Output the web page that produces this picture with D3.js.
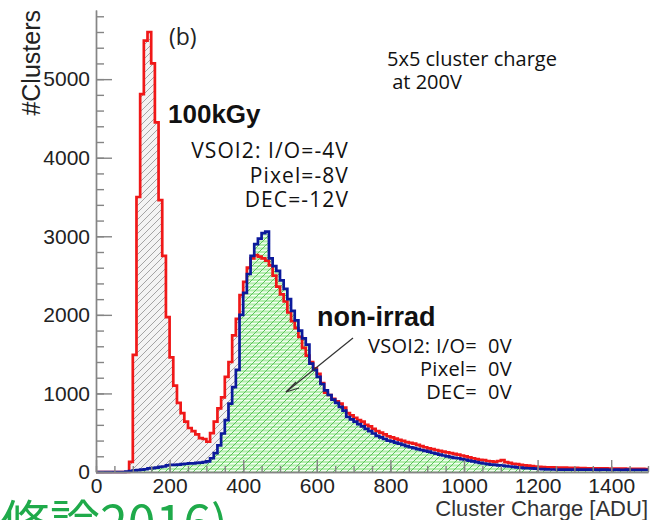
<!DOCTYPE html>
<html>
<head>
<meta charset="utf-8">
<script src="https://cdn.jsdelivr.net/npm/d3@7"></script>
<style>
  body { margin: 0; background: #fff; }
  svg text { white-space: pre; }
</style>
</head>
<body>
<div id="chart"></div>
<script>
// bins are 10 ADU wide, first bin starts at 0
const binStarts = d3.range(0, 1500, 10);

// 100kGy, VSOI2 I/O=-4V Pixel=-8V DEC=-12V
const irradCounts = [
  0, 0, 0, 0, 0, 0, 0, 0, 0, 130,
  1490, 3500, 4810, 5490, 5600, 5200, 4450, 3460, 2750, 1970,
  1460, 1100, 880, 750, 640, 560, 520, 480, 430, 420,
  385, 495, 640, 810, 950, 1210, 1400, 1740, 1950, 2250,
  2420, 2600, 2720, 2760, 2740, 2720, 2690, 2630, 2500, 2360,
  2260, 2170, 2030, 1920, 1830, 1720, 1580, 1480, 1400, 1320,
  1250, 1130, 1010, 980, 930, 900, 870, 820, 750, 720,
  690, 660, 640, 600, 580, 550, 520, 500, 480, 455,
  440, 425, 410, 395, 380, 370, 360, 345, 330, 315,
  300, 290, 280, 270, 260, 250, 240, 230, 220, 210,
  200, 185, 175, 165, 155, 150, 140, 135, 130, 140,
  150, 125, 115, 105, 100, 90, 85, 80, 75, 70,
  65, 62, 60, 60, 58, 57, 55, 55, 54, 52,
  52, 50, 50, 48, 48, 47, 46, 45, 45, 44,
  44, 43, 42, 42, 41, 40, 40, 40, 39, 38
];

// non-irrad, VSOI2 I/O=0V Pixel=0V DEC=0V
const nonIrradCounts = [
  0, 0, 0, 0, 0, 0, 0, 0, 5, 10,
  20, 25, 30, 35, 45, 50, 55, 65, 70, 85,
  90, 90, 95, 100, 105, 110, 110, 115, 120, 125,
  135, 175, 240, 340, 490, 660, 870, 1080, 1300, 2000,
  2280, 2520, 2750, 2900, 2970, 3040, 3060, 2720, 2620, 2560,
  2440, 2330, 2200, 2050, 1930, 1800, 1700, 1620, 1380, 1300,
  1210, 1120, 1040, 980, 920, 880, 830, 780, 700, 670,
  640, 610, 580, 550, 520, 490, 460, 440, 420, 400,
  390, 375, 360, 345, 330, 315, 305, 290, 280, 270,
  260, 245, 235, 220, 210, 200, 190, 180, 175, 165,
  155, 145, 135, 125, 115, 108, 100, 95, 90, 85,
  80, 75, 70, 65, 60, 55, 50, 48, 45, 42,
  38, 36, 34, 32, 32, 31, 30, 30, 30, 30,
  29, 29, 30, 30, 29, 29, 28, 29, 29, 28,
  28, 29, 28, 28, 29, 28, 28, 28, 28, 28
];

const xMajorTicks = [0, 200, 400, 600, 800, 1000, 1200, 1400];
const yMajorTicks = [0, 1000, 2000, 3000, 4000, 5000];

const width = 651, height = 520;

const svg = d3.select("#chart").append("svg")
  .attr("width", width)
  .attr("height", height)
  .style("font-family", "'Liberation Sans', Arial, sans-serif");

const x = d3.scaleLinear().domain([0, 1500]).range([96, 648]);
const y = d3.scaleLinear().domain([0, 5880]).range([472, 10]);

// ---- hatch patterns ----
const defs = svg.append("defs");

const grayHatch = defs.append("pattern")
  .attr("id", "grayHatch")
  .attr("patternUnits", "userSpaceOnUse")
  .attr("width", 7).attr("height", 7);
grayHatch.append("rect").attr("width", 7).attr("height", 7).attr("fill", "#f3f3f3");
grayHatch.append("path")
  .attr("d", "M-1,1 l2,-2 M0,7 l7,-7 M6,8 l2,-2")
  .attr("stroke", "#a4a4a4").attr("stroke-width", 1);

const greenHatch = defs.append("pattern")
  .attr("id", "greenHatch")
  .attr("patternUnits", "userSpaceOnUse")
  .attr("width", 7).attr("height", 7);
greenHatch.append("rect").attr("width", 7).attr("height", 7).attr("fill", "#b2eeac");
greenHatch.append("rect").attr("y", 1).attr("width", 7).attr("height", 1.4).attr("fill", "#f4fff2");
greenHatch.append("rect").attr("y", 4.5).attr("width", 7).attr("height", 1.4).attr("fill", "#f4fff2");
greenHatch.append("path")
  .attr("d", "M-1,1 l2,-2 M0,7 l7,-7 M6,8 l2,-2")
  .attr("stroke", "#5ac25a").attr("stroke-width", 1);

// ---- histograms ----
function toSteps(counts) {
  const pts = counts.map((c, i) => [binStarts[i], c]);
  pts.push([1500, counts[counts.length - 1]]);
  return pts;
}

const area = d3.area()
  .curve(d3.curveStepAfter)
  .x(d => x(d[0]))
  .y0(y(0))
  .y1(d => y(d[1]));

const line = d3.line()
  .curve(d3.curveStepAfter)
  .x(d => x(d[0]))
  .y(d => y(d[1]));

const irrad = toSteps(irradCounts);
const nonIrrad = toSteps(nonIrradCounts);

svg.append("path").datum(irrad)
  .attr("d", area).attr("fill", "url(#grayHatch)");
svg.append("path").datum(nonIrrad)
  .attr("d", area).attr("fill", "url(#greenHatch)");
svg.append("path").datum(irrad)
  .attr("d", line).attr("fill", "none")
  .attr("stroke", "#f01818").attr("stroke-width", 2.7);
svg.append("path").datum(nonIrrad)
  .attr("d", line).attr("fill", "none")
  .attr("stroke", "#0c1a9c").attr("stroke-width", 2.7);

// ---- axes (ticks inward, ROOT style) ----
const axisColor = "#858585";

const xAxisG = svg.append("g").attr("transform", `translate(0,${y(0)})`);
xAxisG.append("g")
  .call(d3.axisBottom(x).tickValues(d3.range(0, 1501, 50)).tickSize(-6).tickSizeOuter(0).tickFormat(""));
xAxisG.append("g")
  .call(d3.axisBottom(x).tickValues(xMajorTicks).tickSize(-12).tickSizeOuter(0)
    .tickPadding(6).tickFormat(d3.format("d")));

const yAxisG = svg.append("g").attr("transform", `translate(${x(0)},0)`);
yAxisG.append("g")
  .call(d3.axisLeft(y).tickValues(d3.range(0, 5801, 200)).tickSize(-8).tickSizeOuter(0).tickFormat(""));
yAxisG.append("g")
  .call(d3.axisLeft(y).tickValues(yMajorTicks).tickSize(-16).tickSizeOuter(0)
    .tickPadding(6).tickFormat(d3.format("d")));

svg.selectAll(".domain, .tick line")
  .attr("stroke", axisColor).attr("stroke-width", 1.4);
svg.selectAll(".tick text")
  .attr("font-size", 21).attr("fill", "#222")
  .attr("font-family", "'Liberation Sans', Arial, sans-serif");

// axis titles
svg.append("text")
  .attr("transform", "translate(40,10) rotate(-90)")
  .attr("text-anchor", "end")
  .attr("font-size", 25)
  .attr("fill", "#222")
  .text("#Clusters");

svg.append("text")
  .attr("x", 648).attr("y", 516)
  .attr("text-anchor", "end")
  .attr("font-size", 22)
  .attr("fill", "#333")
  .text("Cluster Charge [ADU]");

// ---- annotations ----
const noteFont = "'Open Sans', 'Noto Sans', sans-serif";

svg.append("text")
  .attr("x", 169).attr("y", 45)
  .attr("font-size", 23).attr("fill", "#222")
  .attr("font-family", noteFont)
  .text("(b)");

svg.append("text")
  .attr("x", 168).attr("y", 123)
  .attr("font-size", 26).attr("font-weight", "bold").attr("fill", "#111")
  .text("100kGy");

const irradNotes = ["VSOI2: I/O=-4V", "Pixel=-8V", "DEC=-12V"];
svg.append("g").selectAll("text").data(irradNotes).join("text")
  .attr("x", 349).attr("y", (d, i) => 158 + i * 24.5)
  .attr("text-anchor", "end")
  .attr("font-size", 21).attr("letter-spacing", 1.1).attr("fill", "#111")
  .attr("font-family", noteFont)
  .text(d => d);

svg.append("text")
  .attr("x", 317).attr("y", 326)
  .attr("font-size", 27).attr("font-weight", "bold").attr("fill", "#111")
  .text("non-irrad");

const nonIrradNotes = ["VSOI2: I/O=  0V", "Pixel=  0V", "DEC=  0V"];
svg.append("g").selectAll("text").data(nonIrradNotes).join("text")
  .attr("x", 512).attr("y", (d, i) => 353 + i * 23)
  .attr("text-anchor", "end")
  .attr("font-size", 20).attr("letter-spacing", 0.3).attr("fill", "#111")
  .attr("font-family", noteFont)
  .text(d => d);

const titleNotes = ["5x5 cluster charge", " at 200V"];
svg.append("g").selectAll("text").data(titleNotes).join("text")
  .attr("x", 387).attr("y", (d, i) => 66 + i * 23)
  .attr("font-size", 20).attr("fill", "#111")
  .attr("font-family", noteFont)
  .text(d => d);

// arrow from the non-irrad label into the green histogram
svg.append("line")
  .attr("x1", 353).attr("y1", 338).attr("x2", 286).attr("y2", 392)
  .attr("stroke", "#333").attr("stroke-width", 1.2);
svg.append("path")
  .attr("d", "M296,382 L286,392 L299,388")
  .attr("fill", "none").attr("stroke", "#333").attr("stroke-width", 1.2);

// green overlay caption, cut at the bottom edge
svg.append("text")
  .attr("x", 228).attr("y", 542)
  .attr("text-anchor", "end")
  .attr("font-size", 50)
  .attr("fill", "#1faa4a")
  .attr("font-family", "'Noto Sans CJK JP', sans-serif")
  .text("(修論2016)");
</script>
</body>
</html>
